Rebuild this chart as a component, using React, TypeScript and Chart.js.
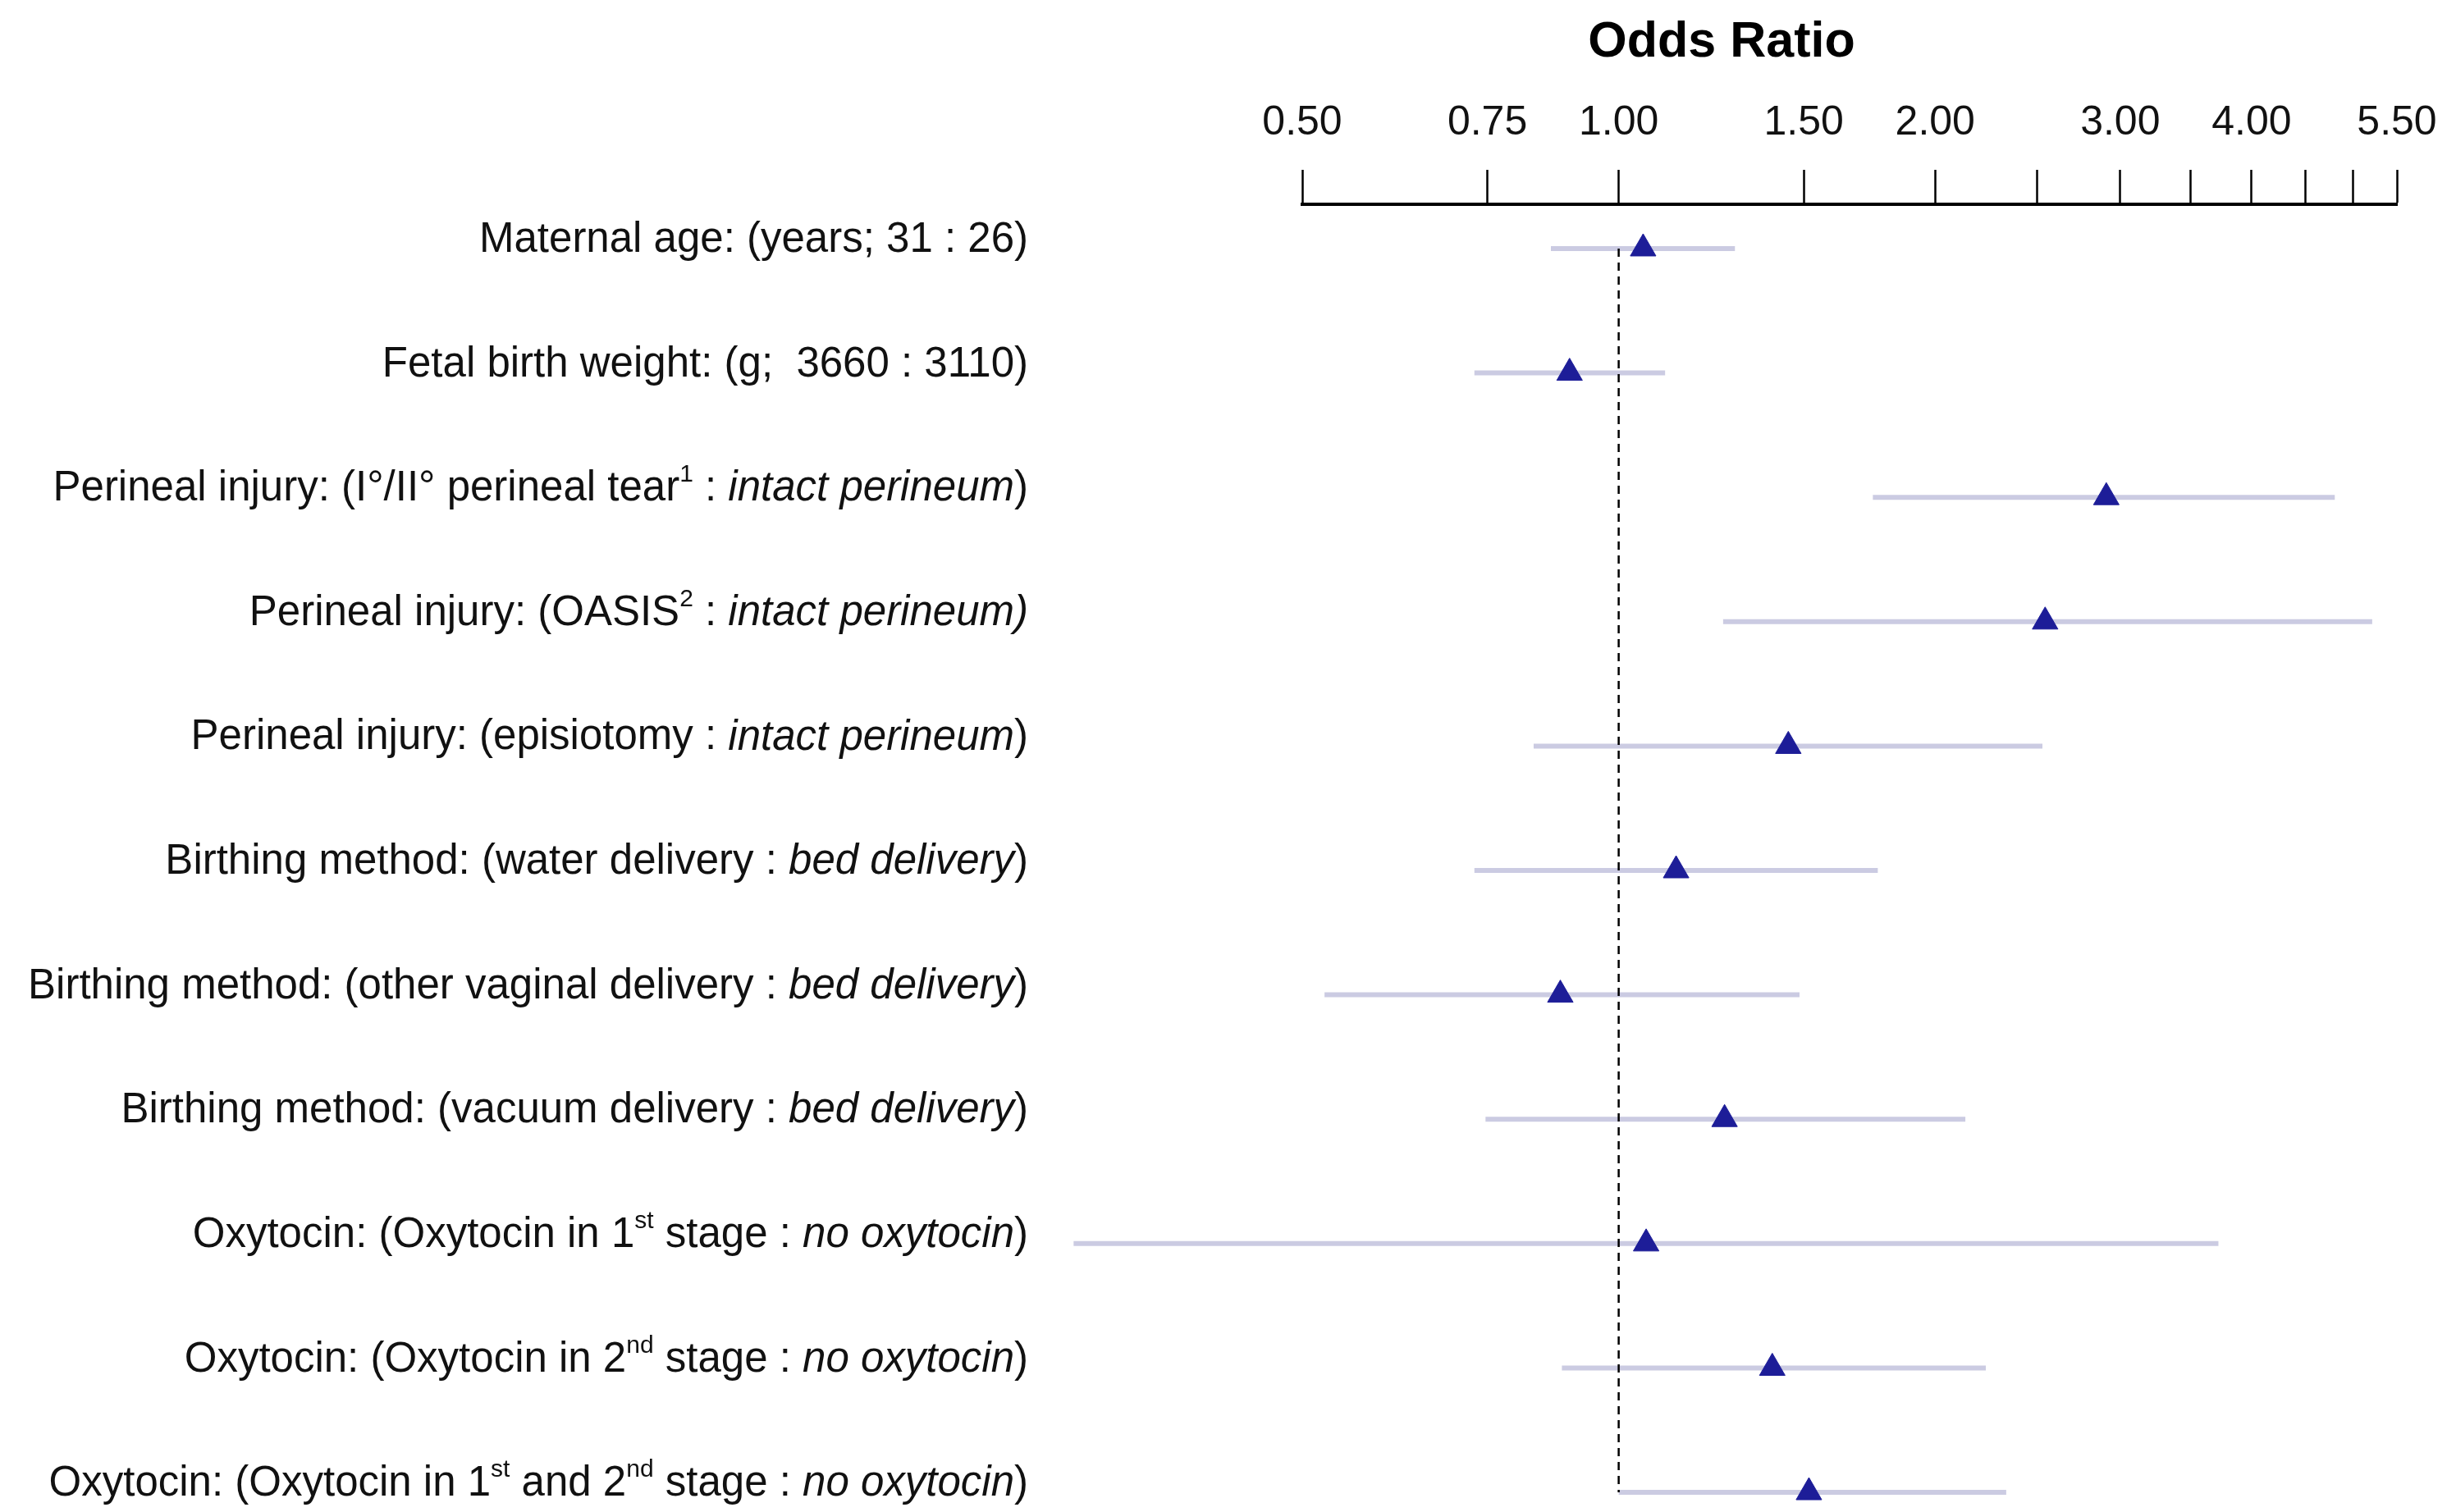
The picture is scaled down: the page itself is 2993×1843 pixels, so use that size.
import React, { useEffect, useRef } from "react";
import { Chart, registerables } from "chart.js";

Chart.register(...registerables);

// ---------------- data ----------------
const ROW_LABELS = [
  "Maternal age: (years; 31 : 26)",
  "Fetal birth weight: (g;  3660 : 3110)",
  "Perineal injury: (I°/II° perineal tear^1 : _intact perineum_)",
  "Perineal injury: (OASIS^2 : _intact perineum)_",
  "Perineal injury: (episiotomy : _intact perineum_)",
  "Birthing method: (water delivery : _bed delivery_)",
  "Birthing method: (other vaginal delivery : _bed delivery_)",
  "Birthing method: (vacuum delivery : _bed delivery_)",
  "Oxytocin: (Oxytocin in 1^st stage : _no oxytocin_)",
  "Oxytocin: (Oxytocin in 2^nd stage : _no oxytocin_)",
  "Oxytocin: (Oxytocin in 1^st and 2^nd stage : _no oxytocin_)",
];
const ODDS_RATIO = [1.055, 0.898, 2.91, 2.545, 1.45, 1.134, 0.88, 1.261, 1.062, 1.4, 1.517];
const CI_LOW = [0.862, 0.729, 1.745, 1.257, 0.83, 0.729, 0.525, 0.747, 0.303, 0.883, 1.0];
const CI_HIGH = [1.29, 1.107, 4.8, 5.21, 2.53, 1.764, 1.486, 2.137, 3.72, 2.235, 2.337];
const TICK_VALUES = [0.5, 0.75, 1, 1.5, 2, 2.5, 3, 3.5, 4, 4.5, 5, 5.5];
const TICK_LABELS = ["0.50", "0.75", "1.00", "1.50", "2.00", "", "3.00", "", "4.00", "", "", "5.50"];
const X_TITLE = "Odds Ratio";
const REFERENCE_VALUE = 1;

// ---------------- styling ----------------
const W = 2993;
const H = 1843;
const FONT = '"Liberation Sans", Arial, Helvetica, sans-serif';
const LABEL_SIZE = 51;
const SUP_SIZE = 30;
const LABEL_RIGHT = 1253;
const LABEL_DY = -10;

type Seg = { text: string; italic: boolean; sup: boolean };

function parseLabel(s: string): Seg[] {
  const segs: Seg[] = [];
  let italic = false;
  let buf = "";
  const flush = () => {
    if (buf) segs.push({ text: buf, italic, sup: false });
    buf = "";
  };
  let i = 0;
  while (i < s.length) {
    const c = s[i];
    if (c === "_") {
      flush();
      italic = !italic;
      i++;
      continue;
    }
    if (c === "^") {
      flush();
      let j = i + 1;
      let t = "";
      while (j < s.length && /[A-Za-z0-9]/.test(s[j])) {
        t += s[j];
        j++;
      }
      segs.push({ text: t, italic, sup: true });
      i = j;
      continue;
    }
    buf += c;
    i++;
  }
  flush();
  return segs;
}

const segFont = (s: Seg) =>
  `${s.italic ? "italic " : ""}${s.sup ? SUP_SIZE : LABEL_SIZE}px ${FONT}`;

const labelPlugin = {
  id: "rowLabels",
  afterDraw(chart: any) {
    const ctx = chart.ctx as CanvasRenderingContext2D;
    const y = chart.scales.y;
    ctx.save();
    ctx.fillStyle = "#111";
    ctx.textBaseline = "middle";
    ctx.textAlign = "left";
    ROW_LABELS.forEach((lab, i) => {
      const segs = parseLabel(lab);
      let total = 0;
      const widths = segs.map((s) => {
        ctx.font = segFont(s);
        const w = ctx.measureText(s.text).width;
        total += w;
        return w;
      });
      let px = LABEL_RIGHT - total;
      const py = y.getPixelForValue(i + 1) + LABEL_DY;
      segs.forEach((s, k) => {
        ctx.font = segFont(s);
        ctx.fillText(s.text, px, s.sup ? py - 17 : py);
        px += widths[k];
      });
    });
    // axis title
    ctx.font = `bold 61px ${FONT}`;
    ctx.textAlign = "center";
    ctx.fillStyle = "#000";
    ctx.fillText(X_TITLE, 2098, 52);
    ctx.restore();
  },
};

export default function App() {
  const ref = useRef<HTMLCanvasElement | null>(null);

  useEffect(() => {
    document.body.style.margin = "0";
    document.body.style.overflow = "hidden";
    if (!ref.current) return;

    const ciData: any[] = [];
    CI_LOW.forEach((lo, i) => {
      ciData.push({ x: lo, y: i + 1 });
      ciData.push({ x: CI_HIGH[i], y: i + 1 });
      ciData.push({ x: null, y: null });
    });

    const chart = new Chart(ref.current, {
      type: "scatter",
      data: {
        datasets: [
          {
            type: "scatter",
            data: ODDS_RATIO.map((v, i) => ({ x: v, y: i + 1 })),
            pointStyle: "triangle",
            pointRadius: 18,
            backgroundColor: "#1d1d98",
            borderColor: "#1d1d98",
            borderWidth: 1,
            order: 0,
            clip: false as any,
          },
          {
            type: "line",
            data: [
              { x: REFERENCE_VALUE, y: 1 },
              { x: REFERENCE_VALUE, y: ROW_LABELS.length },
            ],
            borderColor: "#000",
            borderWidth: 2.5,
            borderDash: [10, 7],
            pointRadius: 0,
            showLine: true,
            order: 1,
            clip: false as any,
          },
          {
            type: "line",
            data: ciData,
            borderColor: "#cbcbe2",
            borderWidth: 6,
            pointRadius: 0,
            showLine: true,
            spanGaps: false,
            order: 2,
            clip: false as any,
          },
        ] as any,
      },
      options: {
        responsive: false,
        animation: false,
        devicePixelRatio: 1,
        layout: { autoPadding: false, padding: { left: 1587, right: 72, top: 0, bottom: 0 } } as any,
        plugins: {
          legend: { display: false },
          tooltip: { enabled: false },
          title: { display: false },
        },
        scales: {
          x: {
            type: "logarithmic",
            position: "top",
            min: 0.5,
            max: 5.5,
            afterBuildTicks: (scale: any) => {
              scale.ticks = TICK_VALUES.map((v) => ({ value: v }));
            },
            afterFit: (scale: any) => {
              scale.height = 249;
              scale.paddingLeft = 0;
              scale.paddingRight = 0;
            },
            ticks: {
              autoSkip: false,
              maxRotation: 0,
              padding: 27,
              color: "#111",
              font: { family: FONT, size: 50 },
              callback: (_v: any, idx: number) => TICK_LABELS[idx] ?? "",
            },
            grid: {
              display: true,
              drawOnChartArea: false,
              drawTicks: true,
              tickLength: 42,
              tickWidth: 2.5,
              tickColor: "#000",
              color: "#000",
            },
            border: { display: true, color: "#000", width: 4 },
          },
          y: {
            type: "linear",
            display: false,
            reverse: true,
            min: 0.644,
            max: 11.158,
          },
        },
      },
      plugins: [labelPlugin],
    });

    return () => chart.destroy();
  }, []);

  return (
    <div style={{ width: W, height: H, overflow: "hidden" }}>
      <canvas ref={ref} width={W} height={H} style={{ display: "block", width: W, height: H }} />
    </div>
  );
}
